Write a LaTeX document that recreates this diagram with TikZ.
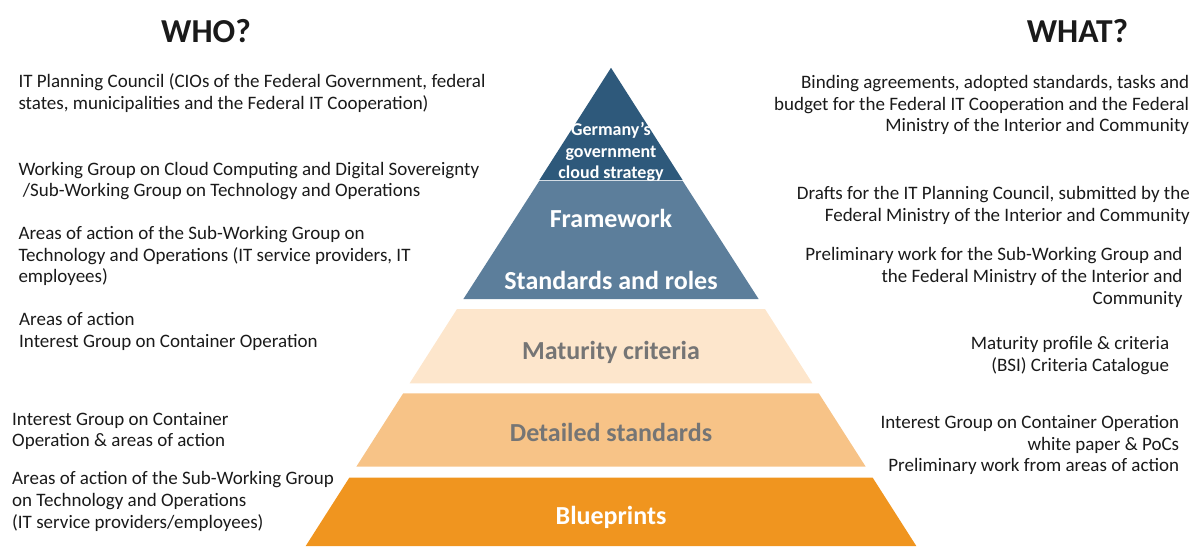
\documentclass[tikz,border=0pt]{standalone}
\usepackage{fontspec}
\setmainfont{Carlito}
\definecolor{topblue}{RGB}{46,89,123}
\definecolor{midblue}{RGB}{92,126,155}
\definecolor{pale}{RGB}{253,230,204}
\definecolor{peach}{RGB}{247,195,135}
\definecolor{orange}{RGB}{240,149,31}
\definecolor{greytxt}{RGB}{117,117,117}
\definecolor{txt}{RGB}{26,26,26}
\begin{document}
\begin{tikzpicture}[x=1pt,y=-1pt,
  side/.style={font=\fontsize{19}{21.7}\selectfont, text=txt, inner sep=0pt},
  lside/.style={side, align=left, anchor=base west},
  rside/.style={side, align=right, anchor=base east},
  head/.style={font=\fontsize{33.5}{38}\bfseries\selectfont, text=txt, inner sep=0pt, anchor=base},
  wlab/.style={font=\fontsize{26}{28}\bfseries\selectfont, text=white, inner sep=0pt, anchor=base},
  glab/.style={font=\fontsize{26}{28}\bfseries\selectfont, text=greytxt, inner sep=0pt, anchor=base},
  toplab/.style={font=\fontsize{18}{21.3}\bfseries\selectfont, text=white, inner sep=0pt, anchor=base, align=center}]
\useasboundingbox (0,0) rectangle (1201,546);
% pyramid layers
\fill[topblue] (611,67.8) -- (682.6,180) -- (539.4,180) -- cycle;
\fill[midblue] (539.4,180.8) -- (682.6,180.8) -- (758.6,299) -- (463.4,299) -- cycle;
\fill[pale] (457,309) -- (765,309) -- (812.4,383.3) -- (409.6,383.3) -- cycle;
\fill[peach] (403.2,393.3) -- (818.8,393.3) -- (865.7,466.7) -- (356.3,466.7) -- cycle;
\fill[orange] (349.3,477.7) -- (872.7,477.7) -- (916.3,546) -- (305.7,546) -- cycle;
% layer labels (base anchor = last line baseline)
\node[toplab] (strategy) at (611,178.3) {Germany’s\\government\\cloud strategy};
\node[wlab] (framework) at (611,227.7) {Framework};
\node[wlab] (roles) at (611,289) {Standards and roles};
\node[glab] (maturity) at (611,359.3) {Maturity criteria};
\node[glab] (detailed) at (611,441.7) {Detailed standards};
\node[wlab] (blueprints) at (611,524) {Blueprints};
% headings
\node[head] (who) at (206,42) {WHO?};
\node[head] (what) at (1077.5,42) {WHAT?};
% left texts
\node[lside] (w1) at (18.3,109.3) {IT Planning Council (CIOs of the Federal Government, federal\\states, municipalities and the Federal IT Cooperation)};
\node[lside] (w2) at (18.3,196.7) {Working Group on Cloud Computing and Digital Sovereignty\\\ /Sub-Working Group on Technology and Operations};
\node[lside] (w3) at (18.3,282.7) {Areas of action of the Sub-Working Group on\\Technology and Operations (IT service providers, IT\\employees)};
\node[lside] (w4) at (19,347.3) {Areas of action\\Interest Group on Container Operation};
\node[lside] (w5) at (12,446.7) {Interest Group on Container\\Operation \& areas of action};
\node[lside] (w6) at (12,528.3) {Areas of action of the Sub-Working Group\\on Technology and Operations\\(IT service providers/employees)};
% right texts
\node[rside] (r1) at (1189.3,131.7) {Binding agreements, adopted standards, tasks and\\budget for the Federal IT Cooperation and the Federal\\Ministry of the Interior and Community};
\node[rside] (r2) at (1190,221) {Drafts for the IT Planning Council, submitted by the\\Federal Ministry of the Interior and Community};
\node[rside] (r3) at (1182.7,304) {Preliminary work for the Sub-Working Group and\\the Federal Ministry of the Interior and\\Community};
\node[rside] (r4) at (1169.3,371) {Maturity profile \& criteria\\(BSI) Criteria Catalogue};
\node[rside] (r5) at (1179.3,471.7) {Interest Group on Container Operation\\white paper \& PoCs\\Preliminary work from areas of action};
\end{tikzpicture}
\end{document}
